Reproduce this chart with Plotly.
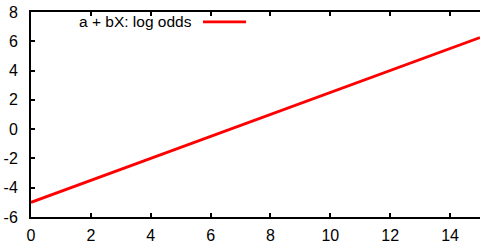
import plotly.graph_objects as go

x_vals = [0, 3, 6, 9, 12, 15]
y_vals = [-5, -2.75, -0.5, 1.75, 4, 6.25]
series_name = "a + bX: log odds"
x_ticks = [0, 2, 4, 6, 8, 10, 12, 14]
y_ticks = [-6, -4, -2, 0, 2, 4, 6, 8]
y_tick_text = ["-6", "-4", "-2", "0", "2", "4", "6", "8"]

fig = go.Figure()
fig.add_trace(go.Scatter(x=x_vals, y=y_vals, mode="lines", name=series_name,
                         line=dict(color="#ff0000", width=2.8), showlegend=False))

# gnuplot-style key: text right-aligned, line sample to the right
fig.add_annotation(x=0.362, y=0.952, xref="paper", yref="paper", text=series_name,
                   showarrow=False, xanchor="right", yanchor="middle",
                   font=dict(family="Liberation Sans, Arial", size=15.5, color="black"))
fig.add_shape(type="line", xref="paper", yref="paper", x0=0.383, x1=0.479, y0=0.952, y1=0.952,
              line=dict(color="#ff0000", width=2.8))

fig.update_layout(
    width=480, height=246,
    margin=dict(l=31, r=0, t=12, b=29),
    plot_bgcolor="white", paper_bgcolor="white",
    font=dict(family="Liberation Sans, Arial", size=16, color="black"),
)
fig.update_xaxes(range=[0, 15], tickvals=x_ticks, showgrid=False, zeroline=False,
                 showline=True, linecolor="black", linewidth=2, mirror="ticks",
                 ticks="inside", ticklen=4, tickwidth=2, tickcolor="black",
                 ticklabelstandoff=3)
fig.update_yaxes(range=[-6, 8], tickvals=y_ticks, ticktext=y_tick_text, showgrid=False,
                 zeroline=False, showline=True, linecolor="black", linewidth=2, mirror=False,
                 ticks="inside", ticklen=4, tickwidth=2, tickcolor="black",
                 ticklabelstandoff=8)

fig.write_html("out.html", config={"displayModeBar": False},
               post_script="document.body.style.margin='0';document.body.style.overflow='hidden';")
